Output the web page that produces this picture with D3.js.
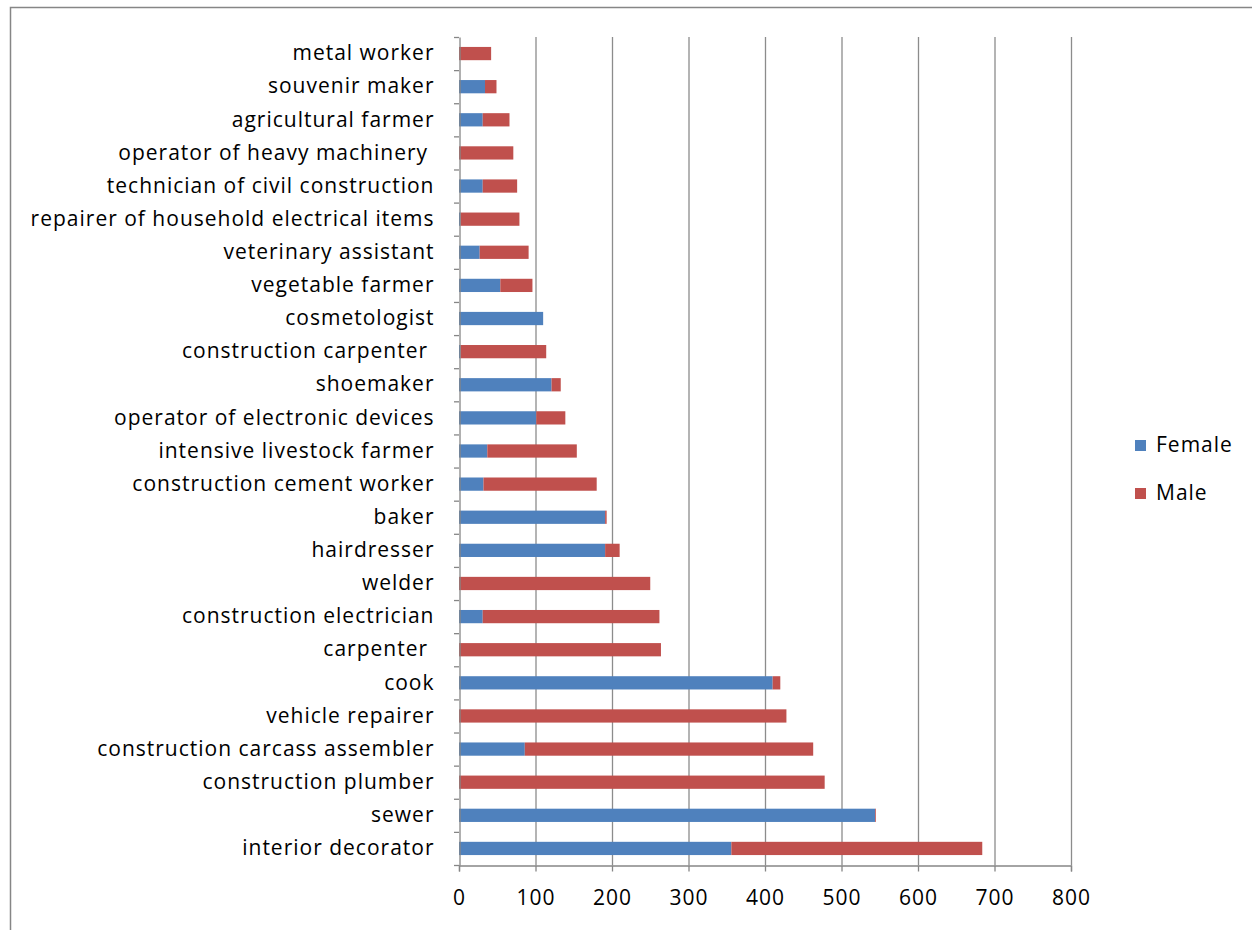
<!DOCTYPE html>
<html>
<head>
<meta charset="utf-8">
<script src="https://cdn.jsdelivr.net/npm/d3@7"></script>
<style>
  html, body { margin: 0; padding: 0; background: #fff; }
  svg { display: block; }
</style>
</head>
<body>
<svg id="chart" width="1252" height="930"></svg>
<script>
// Occupations, listed from the bottom bar upward
const categories = [
  "interior decorator", "sewer", "construction plumber", "construction carcass assembler",
  "vehicle repairer", "cook", "carpenter ", "construction electrician", "welder",
  "hairdresser", "baker", "construction cement worker", "intensive livestock farmer",
  "operator of electronic devices", "shoemaker", "construction carpenter ", "cosmetologist",
  "vegetable farmer", "veterinary assistant", "repairer of household electrical items",
  "technician of civil construction", "operator of heavy machinery ", "agricultural farmer",
  "souvenir maker", "metal worker"
];
const female = [356, 544, 0, 86, 0, 410, 0, 31, 0, 191, 191, 32, 37, 101, 121, 2, 110, 54, 27, 2, 31, 0, 31, 34, 0];
const male   = [328, 1, 478, 377, 428, 10, 264, 231, 250, 19, 2, 148, 117, 38, 12, 112, 0, 42, 64, 77, 45, 71, 35, 15, 42];
const seriesNames = ["Female", "Male"];
const seriesColors = ["#4F81BD", "#C0504D"];
const xTicks = [0, 100, 200, 300, 400, 500, 600, 700, 800];

const svg = d3.select("#chart");
const font = "'Open Sans', 'Liberation Sans', Arial, sans-serif";
const fontSize = 21;
const spacing = "1px";

// outer chart frame
svg.append("rect")
  .attr("x", 10.5).attr("y", 7.5).attr("width", 1260).attr("height", 940)
  .attr("fill", "none").attr("stroke", "#868686").attr("stroke-width", 1.5);

const plot = { left: 459, right: 1071, top: 37, bottom: 865 };

const x = d3.scaleLinear().domain([0, 800]).range([plot.left, plot.right]);
const y = d3.scaleBand().domain(categories.slice().reverse())
  .range([plot.top, plot.bottom]).paddingInner(0.6).paddingOuter(0.3);

const rows = categories.map((c, i) => ({ cat: c, Female: female[i], Male: male[i] }));
const stacked = d3.stack().keys(seriesNames)(rows);

// vertical gridlines
svg.append("g").selectAll("line").data(xTicks.filter(d => d > 0)).join("line")
  .attr("x1", d => x(d) + 0.5).attr("x2", d => x(d) + 0.5)
  .attr("y1", plot.top).attr("y2", plot.bottom)
  .attr("stroke", "#8c8c8c").attr("stroke-width", 1.3);

// stacked bars
svg.append("g").selectAll("g").data(stacked).join("g")
  .attr("fill", (d, i) => seriesColors[i])
  .selectAll("rect").data(d => d).join("rect")
  .attr("x", d => x(d[0]))
  .attr("y", d => y(d.data.cat))
  .attr("width", d => Math.max(0, x(d[1]) - x(d[0])))
  .attr("height", y.bandwidth());

// x axis
const xAxis = svg.append("g").attr("transform", `translate(0,${plot.bottom + 0.5})`)
  .call(d3.axisBottom(x).tickValues(xTicks).tickSize(6).tickPadding(19));
xAxis.select(".domain").attr("stroke", "#868686").attr("stroke-width", 1.3);
xAxis.selectAll(".tick line").attr("stroke", "#868686").attr("stroke-width", 1.3);
xAxis.selectAll("text").attr("font-family", font).attr("font-size", fontSize)
  .attr("fill", "#000").style("letter-spacing", spacing);

// y axis with ticks between categories
const yAxis = svg.append("g").attr("transform", `translate(${plot.left + 0.5},0)`)
  .call(d3.axisLeft(y).tickSize(0).tickPadding(25));
yAxis.select(".domain").attr("stroke", "#868686").attr("stroke-width", 1.3);
yAxis.selectAll("text").attr("font-family", font).attr("font-size", fontSize).attr("fill", "#000")
  .style("white-space", "pre").style("letter-spacing", spacing);
const boundaries = d3.range(categories.length + 1).map(i => plot.top + i * (plot.bottom - plot.top) / categories.length);
svg.append("g").selectAll("line").data(boundaries).join("line")
  .attr("x1", plot.left - 5).attr("x2", plot.left)
  .attr("y1", d => d + 0.5).attr("y2", d => d + 0.5)
  .attr("stroke", "#868686").attr("stroke-width", 1.3);

// legend
const legend = svg.append("g").selectAll("g").data(seriesNames).join("g")
  .attr("transform", (d, i) => `translate(1135,${440 + i * 48})`);
legend.append("rect").attr("width", 11).attr("height", 11)
  .attr("fill", (d, i) => seriesColors[i]);
legend.append("text").attr("x", 21).attr("y", 12)
  .attr("font-family", font).attr("font-size", fontSize).attr("fill", "#000")
  .style("letter-spacing", spacing)
  .text(d => d);
</script>
</body>
</html>
